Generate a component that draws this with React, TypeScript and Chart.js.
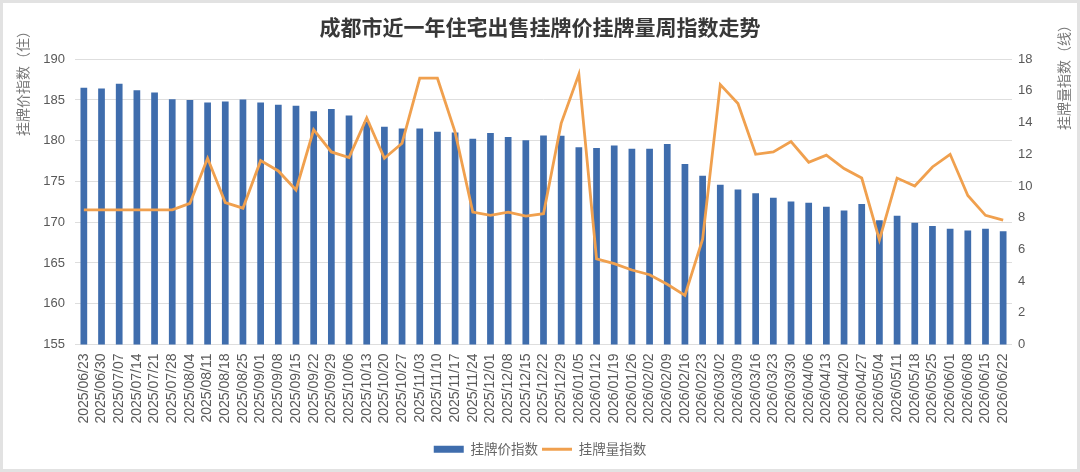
import React, { useEffect, useRef } from "react";
import { Chart, registerables } from "chart.js";

Chart.register(...registerables);

const TITLE = "成都市近一年住宅出售挂牌价挂牌量周指数走势";
const LEFT_TITLE = "挂牌价指数（住）";
const RIGHT_TITLE = "挂牌量指数（线）";
const PRICE_LABEL = "挂牌价指数";
const VOLUME_LABEL = "挂牌量指数";

const weeks: string[] = [
  "2025/06/23", "2025/06/30", "2025/07/07", "2025/07/14", "2025/07/21", "2025/07/28",
  "2025/08/04", "2025/08/11", "2025/08/18", "2025/08/25", "2025/09/01", "2025/09/08",
  "2025/09/15", "2025/09/22", "2025/09/29", "2025/10/06", "2025/10/13", "2025/10/20",
  "2025/10/27", "2025/11/03", "2025/11/10", "2025/11/17", "2025/11/24", "2025/12/01",
  "2025/12/08", "2025/12/15", "2025/12/22", "2025/12/29", "2026/01/05", "2026/01/12",
  "2026/01/19", "2026/01/26", "2026/02/02", "2026/02/09", "2026/02/16", "2026/02/23",
  "2026/03/02", "2026/03/09", "2026/03/16", "2026/03/23", "2026/03/30", "2026/04/06",
  "2026/04/13", "2026/04/20", "2026/04/27", "2026/05/04", "2026/05/11", "2026/05/18",
  "2026/05/25", "2026/06/01", "2026/06/08", "2026/06/15", "2026/06/22",
];

const priceIndex: number[] = [
  186.5, 186.4, 187.0, 186.2, 185.9, 185.1, 185.0, 184.7, 184.8, 185.05, 184.7, 184.4,
  184.3, 183.6, 183.9, 183.1, 182.3, 181.7, 181.5, 181.5, 181.1, 181.0, 180.25, 180.95,
  180.45, 180.05, 180.65, 180.6, 179.2, 179.1, 179.4, 179.0, 179.0, 179.6, 177.15, 175.7,
  174.6, 174.0, 173.55, 173.0, 172.55, 172.4, 171.9, 171.45, 172.25, 170.25, 170.8, 169.95,
  169.55, 169.2, 169.0, 169.2, 168.9,
];

const volumeIndex: number[] = [
  8.5, 8.5, 8.5, 8.5, 8.5, 8.5, 8.9, 11.75, 8.95, 8.6, 11.6, 10.95,
  9.75, 13.55, 12.15, 11.8, 14.3, 11.75, 12.7, 16.8, 16.8, 13.4, 8.35, 8.15,
  8.35, 8.1, 8.25, 13.95, 17.05, 5.4, 5.1, 4.7, 4.4, 3.8, 3.1, 6.65,
  16.4, 15.2, 12.0, 12.15, 12.8, 11.5, 11.95, 11.1, 10.5, 6.6, 10.5, 10.0,
  11.2, 12.0, 9.4, 8.15, 7.85,
];

const leftTicks = { min: 155, max: 190, step: 5 };
const rightTicks = { min: 0, max: 18, step: 2 };

const FONT = "'Liberation Sans', 'Noto Sans CJK SC', Arial, sans-serif";
const CJK_FONT = "'Noto Sans CJK SC', 'Liberation Sans', sans-serif";

const BAR_COLOR = "#3F6DAD";
const LINE_COLOR = "#F0A04E";

const axisTitlesPlugin = {
  id: "axisTitles",
  afterDraw(chart: any) {
    const ctx = chart.ctx as CanvasRenderingContext2D;
    ctx.save();
    ctx.font = `14px ${CJK_FONT}`;
    ctx.fillStyle = "#777777";
    ctx.textAlign = "center";
    ctx.textBaseline = "middle";
    ctx.save();
    ctx.translate(20, 77);
    ctx.rotate(-Math.PI / 2);
    ctx.fillText(LEFT_TITLE, 0, 0);
    ctx.restore();
    ctx.save();
    ctx.translate(chart.width - 13, 71);
    ctx.rotate(-Math.PI / 2);
    ctx.fillText(RIGHT_TITLE, 0, 0);
    ctx.restore();
    ctx.restore();
  },
};

export default function App() {
  const canvasRef = useRef<HTMLCanvasElement | null>(null);

  useEffect(() => {
    if (!canvasRef.current) return;
    const chart = new Chart(canvasRef.current, {
      type: "bar",
      data: {
        labels: weeks,
        datasets: [
          {
            type: "bar",
            label: PRICE_LABEL,
            data: priceIndex,
            backgroundColor: BAR_COLOR,
            borderWidth: 0,
            barPercentage: 0.38,
            categoryPercentage: 1,
            yAxisID: "y",
            order: 1,
            pointStyle: "rect",
          } as any,
          {
            type: "line",
            label: VOLUME_LABEL,
            data: volumeIndex,
            borderColor: LINE_COLOR,
            backgroundColor: LINE_COLOR,
            borderWidth: 2.8,
            pointRadius: 0,
            pointHoverRadius: 0,
            pointStyle: "line",
            pointBorderColor: LINE_COLOR,
            pointBorderWidth: 3,
            tension: 0,
            yAxisID: "y1",
            order: 0,
          } as any,
        ],
      },
      options: {
        animation: false,
        responsive: false,
        maintainAspectRatio: false,
        devicePixelRatio: 1,
        layout: { padding: { left: 0, right: 0, top: 0, bottom: 3 } },
        plugins: {
          title: {
            display: true,
            text: TITLE,
            color: "#383838",
            font: { family: CJK_FONT, size: 21, weight: "bold" },
            padding: { top: 11, bottom: 20 },
          },
          legend: {
            display: true,
            position: "bottom",
            labels: {
              usePointStyle: true,
              pointStyleWidth: 30,
              boxHeight: 7,
              padding: 4,
              color: "#666666",
              font: { family: CJK_FONT, size: 13.5 },
              sort: (a: any, b: any) => a.datasetIndex - b.datasetIndex,
            },
          },
          tooltip: { enabled: false },
        },
        scales: {
          x: {
            grid: { display: false, drawTicks: false },
            border: { display: false },
            ticks: {
              autoSkip: false,
              minRotation: 90,
              maxRotation: 90,
              padding: 9,
              color: "#595959",
              font: { family: FONT, size: 14 },
            },
            afterFit: (s: any) => {
              s.height = 94;
            },
          },
          y: {
            position: "left",
            min: leftTicks.min,
            max: leftTicks.max,
            ticks: {
              stepSize: leftTicks.step,
              padding: 10,
              color: "#595959",
              font: { family: FONT, size: 13 },
            },
            grid: { color: "#dedede", lineWidth: 1, drawTicks: false },
            border: { display: false },
            afterFit: (s: any) => {
              s.width = 72;
            },
          },
          y1: {
            position: "right",
            min: rightTicks.min,
            max: rightTicks.max,
            ticks: {
              stepSize: rightTicks.step,
              padding: 6,
              color: "#595959",
              font: { family: FONT, size: 13 },
            },
            grid: { display: false, drawTicks: false },
            border: { display: false },
            afterFit: (s: any) => {
              s.width = 65;
            },
          },
        },
      },
      plugins: [axisTitlesPlugin],
    });
    return () => chart.destroy();
  }, []);

  return (
    <div
      style={{
        position: "absolute",
        left: 0,
        top: 0,
        width: 1080,
        height: 472,
        boxSizing: "border-box",
        border: "3px solid #e2e2e2",
        background: "#ffffff",
      }}
    >
      <canvas ref={canvasRef} width={1074} height={466} style={{ display: "block" }} />
    </div>
  );
}
